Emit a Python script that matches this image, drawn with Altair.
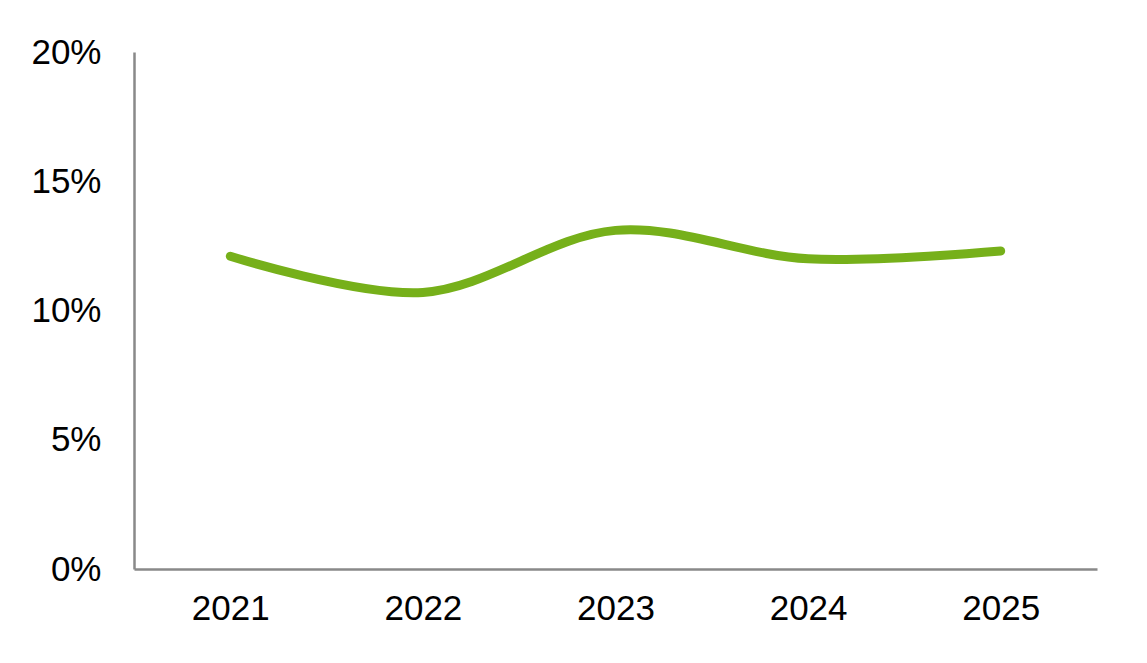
import altair as alt
import pandas as pd

years = ["2021", "2022", "2023", "2024", "2025"]
values = [0.121, 0.107, 0.131, 0.120, 0.123]

df = pd.DataFrame({"year": years, "value": values})

axis_color = "#898989"
font = "Liberation Sans"

chart = alt.Chart(df).mark_line(
    color="#76b01a", strokeWidth=9, strokeCap="round", interpolate="catmull-rom"
).encode(
    x=alt.X("year:N", sort=years, title=None,
            scale=alt.Scale(paddingInner=0, paddingOuter=0.5),
            axis=alt.Axis(labelAngle=0, labelFontSize=35, labelFont=font, labelColor="#000000",
                          domainColor=axis_color, domainWidth=2.5, ticks=False, labelPadding=22,
                          grid=False)),
    y=alt.Y("value:Q", title=None,
            scale=alt.Scale(domain=[0, 0.2], nice=False),
            axis=alt.Axis(format=".0%", values=[0, 0.05, 0.1, 0.15, 0.2], labelFontSize=35,
                          labelFont=font, labelColor="#000000", domainColor=axis_color,
                          domainWidth=2.5, ticks=False, labelPadding=33, grid=False)),
).properties(
    width=963, height=517,
    autosize=alt.AutoSizeParams(type="none"),
    padding={"left": 126, "top": 44, "right": 42, "bottom": 80},
).configure(background="white").configure_view(strokeWidth=0, stroke="transparent")

chart.save("out.html", embed_options={"renderer": "svg", "actions": False})
